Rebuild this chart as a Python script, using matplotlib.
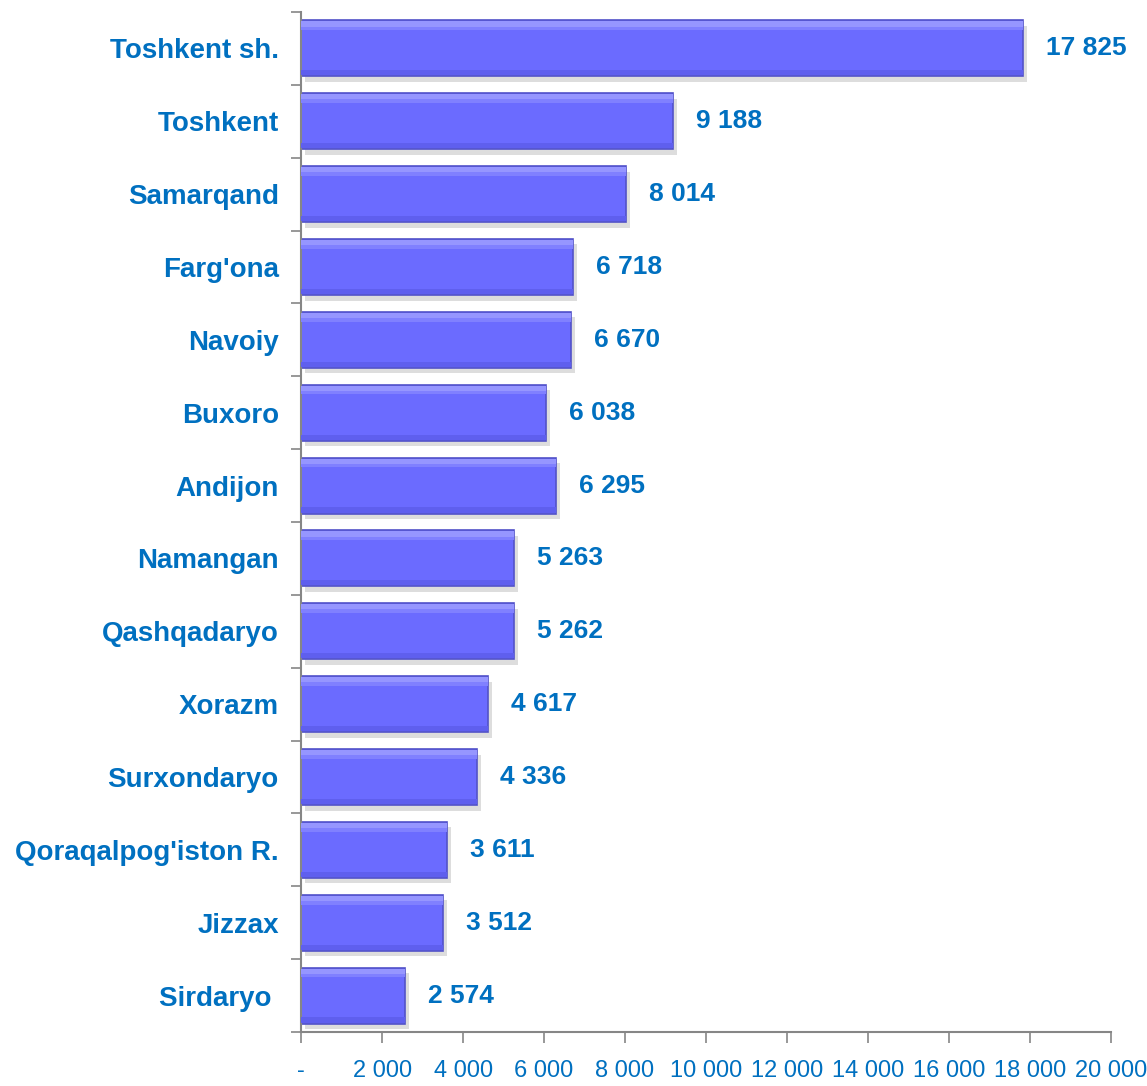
import numpy as np
import matplotlib.pyplot as plt
from matplotlib import patheffects as pe
from matplotlib.ticker import FixedLocator, FuncFormatter

regions = ["Toshkent sh.", "Toshkent", "Samarqand", "Farg'ona", "Navoiy", "Buxoro",
           "Andijon", "Namangan", "Qashqadaryo", "Xorazm", "Surxondaryo",
           "Qoraqalpog'iston R.", "Jizzax", "Sirdaryo "]
values = [17825, 9188, 8014, 6718, 6670, 6038, 6295, 5263, 5262, 4617, 4336, 3611, 3512, 2574]
xticks = [0, 2000, 4000, 6000, 8000, 10000, 12000, 14000, 16000, 18000, 20000]

plt.rcParams['font.family'] = ['Liberation Sans', 'DejaVu Sans']
blue = '#0070C0'
grey = '#868686'

fig = plt.figure(figsize=(11.47, 10.86), dpi=100)
ax = fig.add_axes([0.2625, 0.0497, 0.9686 - 0.2625, 0.989 - 0.0497])

y = np.arange(len(regions))
h = 0.77
shadow = [pe.SimplePatchShadow(offset=(3, -4), alpha=0.2, shadow_rgbFace='#555555'), pe.Normal()]
ax.barh(y, values, height=h, color='#6B6BFF', edgecolor='#5252C8', linewidth=1.2,
        path_effects=shadow, zorder=2)
# bevel: soft light top strip, darker bottom strip
ax.barh(y - h / 2 + 0.05, values, height=0.07, color='#9696FF', linewidth=0, zorder=3)
ax.barh(y - h / 2 + 0.11, values, height=0.05, color='#8080FF', linewidth=0, zorder=3)
ax.barh(y + h / 2 - 0.05, values, height=0.07, color='#5F5FEE', linewidth=0, zorder=3)

for yi, v in zip(y, values):
    ax.text(v + 570, yi, f"{v:,}".replace(",", " "), va='center', ha='left',
            color=blue, fontsize=19, fontweight='bold')

ax.set_ylim(len(regions) - 0.5, -0.5)
ax.set_xlim(0, 20000)
ax.set_yticks(y)
ax.set_yticklabels(regions, fontsize=20, fontweight='bold', color=blue)
ax.tick_params(axis='y', which='major', length=0, pad=16)
ax.yaxis.set_minor_locator(FixedLocator(np.arange(-0.5, len(regions), 1.0)))
ax.tick_params(axis='y', which='minor', length=7, width=1.2, color=grey)

ax.xaxis.set_major_locator(FixedLocator(xticks))
ax.xaxis.set_major_formatter(FuncFormatter(
    lambda v, p: "-" if v == 0 else f"{int(v):,}".replace(",", " ")))
ax.tick_params(axis='x', length=8, width=1.2, color=grey, labelcolor=blue,
               labelsize=17, pad=12)

for s in ['top', 'right']:
    ax.spines[s].set_visible(False)
for s in ['left', 'bottom']:
    ax.spines[s].set_color(grey)
    ax.spines[s].set_linewidth(1.5)

fig.savefig('out.png', dpi=100)
